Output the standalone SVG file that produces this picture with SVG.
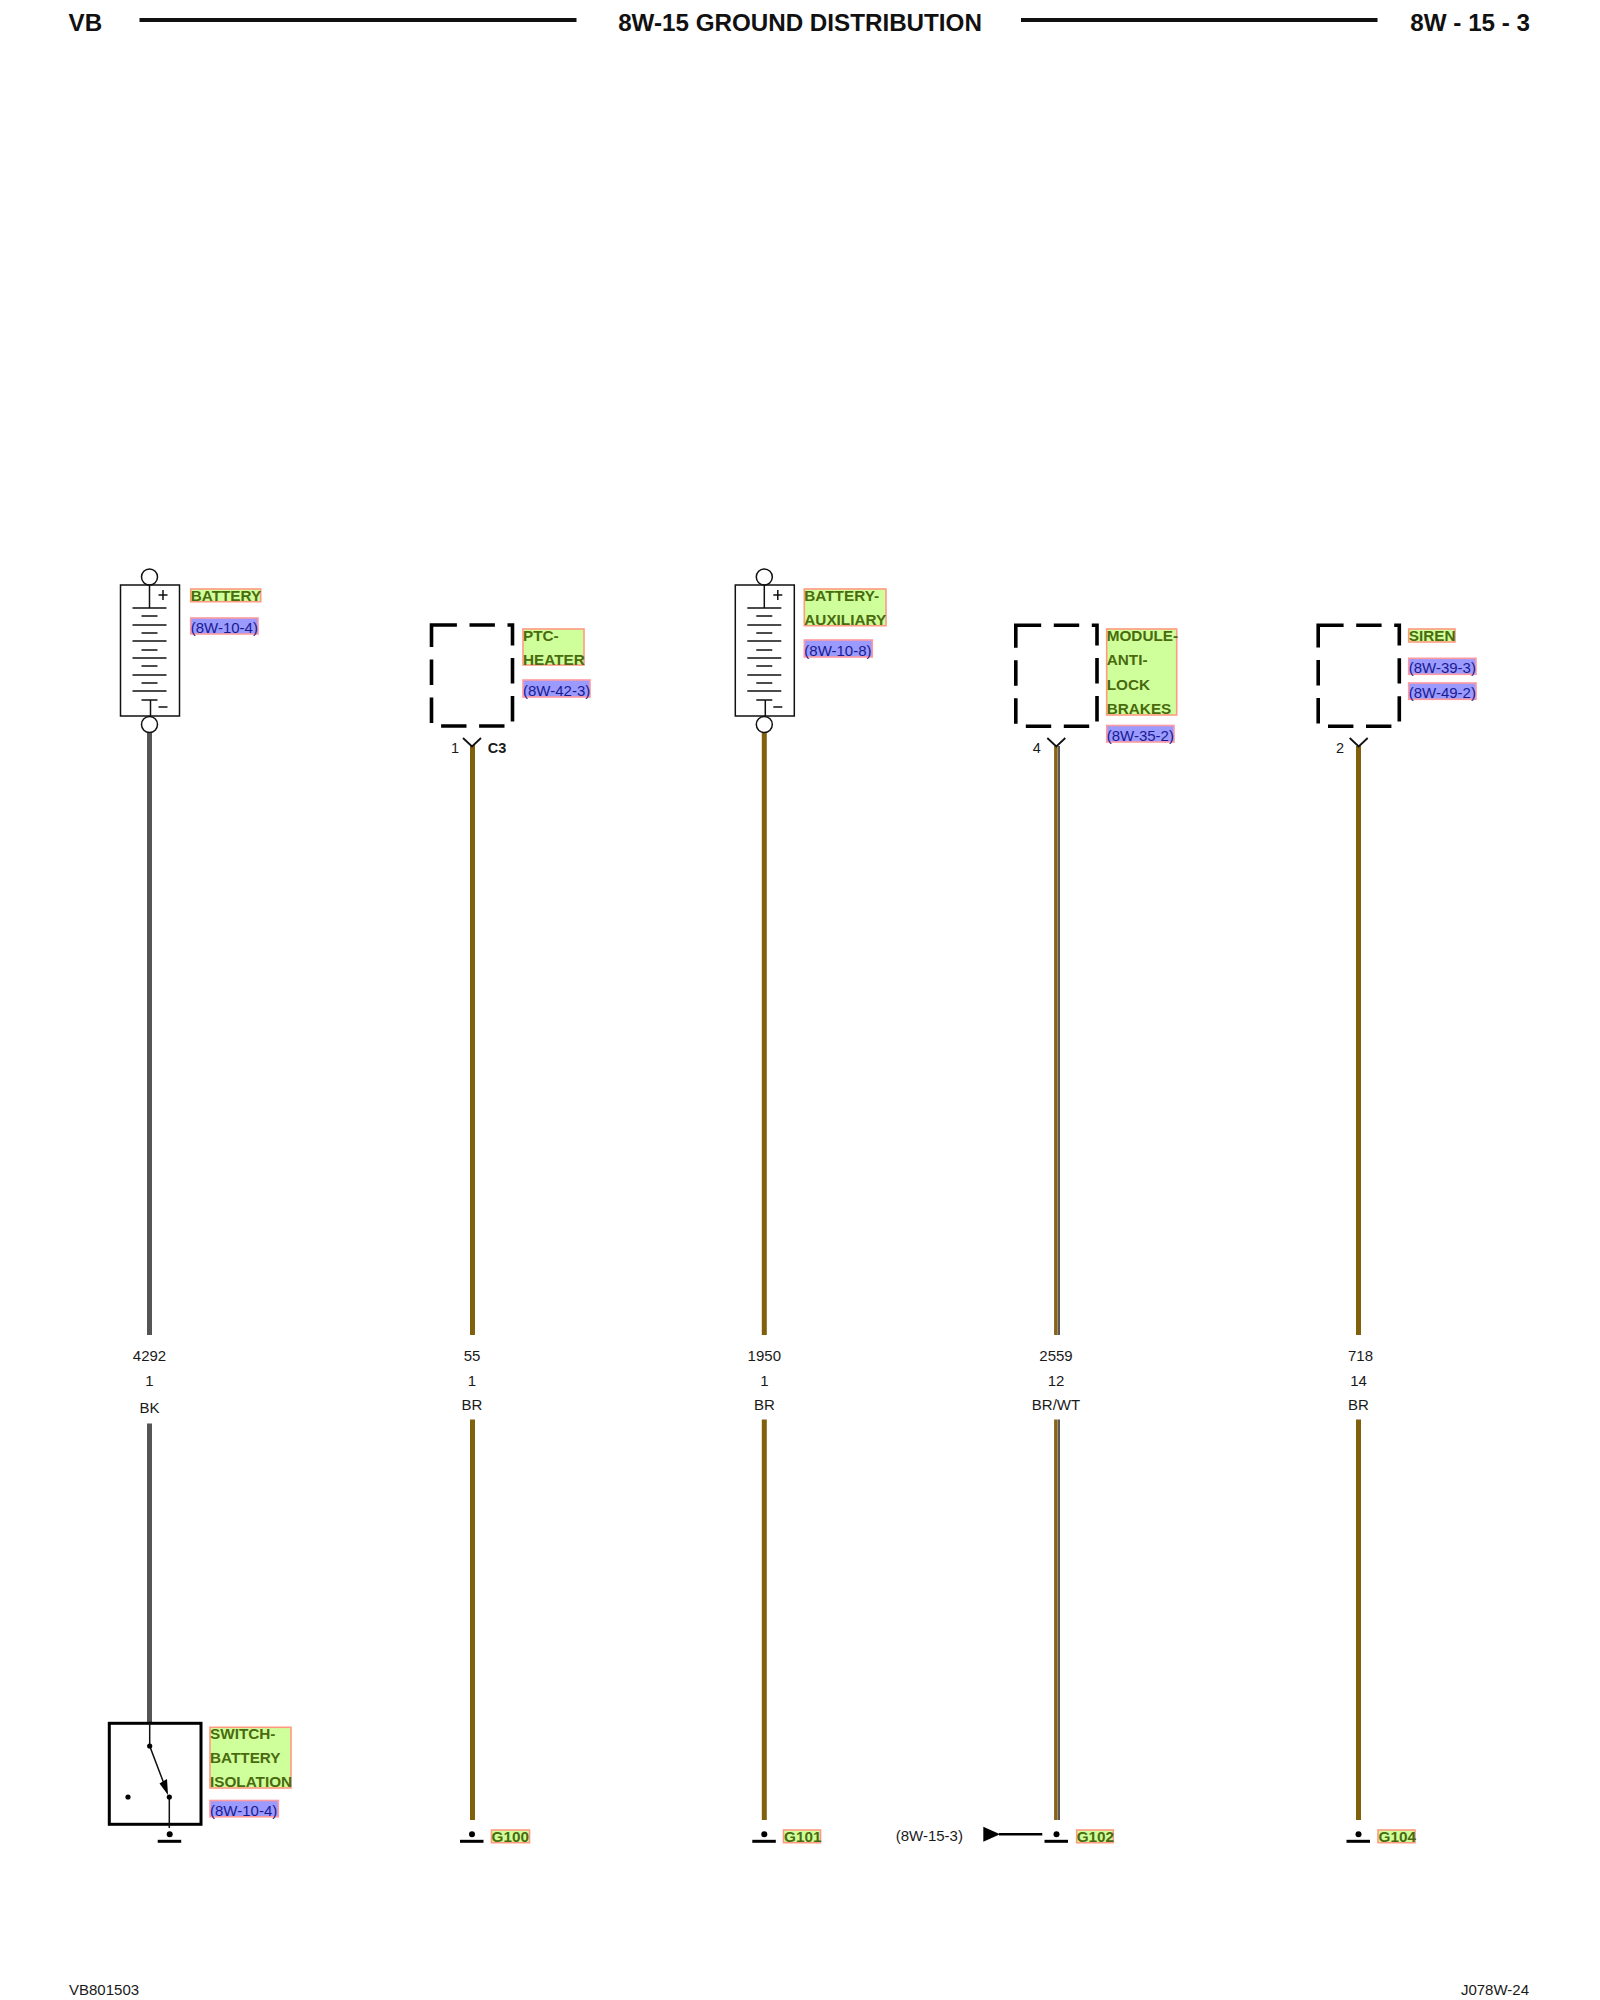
<svg xmlns="http://www.w3.org/2000/svg" xmlns:xlink="http://www.w3.org/1999/xlink" width="1600" height="2000" viewBox="0 0 1600 2000">
<style>
text{font-family:"Liberation Sans",Arial,sans-serif;font-size:15px;fill:#1a1a1a}
.hd{font-size:24.2px;font-weight:bold;fill:#111}
.hl{stroke:#111;stroke-width:4.2;fill:none}
.n{text-anchor:middle}
.pin{font-size:14.5px}
.b{font-weight:bold}
.gl{fill:#cfff9a;stroke:#ff9a80;stroke-width:1.6}
.bl{fill:#9a9aff;stroke:#ff9aa0;stroke-width:1.6}
.gt{font-weight:bold;font-size:15.3px;fill:#4a6a10}
.bt{fill:#1a1a90}
.thin{stroke:#111;stroke-width:1.5;fill:none}
.dash{fill:none;stroke:#000;stroke-width:3.6;stroke-dasharray:25.4 12.6}
.y{stroke:#111;stroke-width:1.8;fill:none}
.gb{stroke:#000;stroke-width:3}
.bk{stroke:#555;stroke-width:5;fill:none}
.br{stroke:#80600c;stroke-width:5;fill:none}
.brs{stroke:#86621a;stroke-width:3.6;fill:none}
.blk{stroke:#222;stroke-width:1.5;fill:none}
</style>
<defs>
<g id="batt">
<circle cx="0" cy="-8" r="8" fill="#fff" class="thin"/>
<rect x="-29" y="0" width="59" height="131" fill="#fff" class="thin"/>
<circle cx="0" cy="139.500" r="8" fill="#fff" class="thin"/>
<path class="thin" d="M0 0V23M-17 23H17M-8 31H8M-17 40H17M-8 48H8M-17 56H17M-8 65H8M-17 73H17M-8 81H8M-17 90H17M-8 98H8M-17 106H17M-8 115H8M1 115V131M9 122H18M9 10H18M13.500 5V15"/>
</g>
<g id="gnd">
<circle cx="0" cy="-7" r="3" fill="#000"/>
<path class="gb" d="M-12 0H11.500"/>
</g>
<path id="yc" class="y" d="M-9 738L0 746.500L9 738"/>
</defs>

<g id="header">
<text class="hd" x="68.500" y="31">VB</text>
<path class="hl" d="M139.500 20H576.500M1021 20H1377.500"/>
<text class="hd n" x="800" y="31">8W-15 GROUND DISTRIBUTION</text>
<text class="hd" x="1530" y="31" text-anchor="end">8W - 15 - 3</text>
</g>

<g id="connectors">
<path class="bk" d="M149.500 732V1335M149.500 1423.500V1723"/>
<path class="br" d="M472.500 745V1335M472.500 1419.500V1820"/>
<path class="br" d="M764.300 732V1335M764.300 1419.500V1820"/>
<path class="brs" d="M1055.900 746V1335M1055.900 1419.500V1820"/>
<path class="blk" d="M1059 746V1335M1059 1419.500V1820"/>
<path class="br" d="M1358.500 746V1335M1358.500 1419.500V1820"/>
</g>

<g id="node-battery">
<use xlink:href="#batt" href="#batt" x="149.500" y="585"/>
<rect class="gl" x="190.700" y="589" width="70" height="12.700"/>
<text class="gt" x="190.700" y="600.700">BATTERY</text>
<rect class="bl" x="190.700" y="618" width="67.300" height="16"/>
<text class="bt" x="190.700" y="633">(8W-10-4)</text>
</g>

<g id="node-ptc-heater">
<rect class="dash" x="431.500" y="625" width="81" height="101"/>
<use xlink:href="#yc" href="#yc" x="472" y="0"/>
<text class="pin n" x="455" y="753">1</text>
<text class="pin b" x="487.700" y="753">C3</text>
<rect class="gl" x="523" y="629" width="61" height="36"/>
<text class="gt" x="523" y="640.700">PTC-</text>
<text class="gt" x="523" y="664.700">HEATER</text>
<rect class="bl" x="523" y="680" width="67" height="17"/>
<text class="bt" x="523" y="696">(8W-42-3)</text>
</g>

<g id="node-battery-auxiliary">
<use xlink:href="#batt" href="#batt" x="764.300" y="585"/>
<rect class="gl" x="804.300" y="589" width="81.700" height="36.700"/>
<text class="gt" x="804.300" y="600.700">BATTERY-</text>
<text class="gt" x="804.300" y="624.700">AUXILIARY</text>
<rect class="bl" x="804.300" y="640" width="68" height="17"/>
<text class="bt" x="804.300" y="656">(8W-10-8)</text>
</g>

<g id="node-module-abs">
<rect class="dash" x="1015.800" y="625.300" width="81.200" height="101"/>
<use xlink:href="#yc" href="#yc" x="1056.300" y="0"/>
<text class="pin n" x="1036.700" y="753">4</text>
<rect class="gl" x="1106.700" y="629" width="70" height="86"/>
<text class="gt" x="1106.700" y="641">MODULE-</text>
<text class="gt" x="1106.700" y="665">ANTI-</text>
<text class="gt" x="1106.700" y="690">LOCK</text>
<text class="gt" x="1106.700" y="714">BRAKES</text>
<rect class="bl" x="1106.700" y="725.500" width="67.300" height="16.500"/>
<text class="bt" x="1106.700" y="741">(8W-35-2)</text>
</g>

<g id="node-siren">
<rect class="dash" x="1318.200" y="625.300" width="81.100" height="101"/>
<use xlink:href="#yc" href="#yc" x="1358.700" y="0"/>
<text class="pin n" x="1340" y="753">2</text>
<rect class="gl" x="1408.700" y="629" width="46.300" height="13"/>
<text class="gt" x="1408.700" y="640.700">SIREN</text>
<rect class="bl" x="1408.700" y="658.300" width="67.300" height="16"/>
<text class="bt" x="1408.700" y="673.300">(8W-39-3)</text>
<rect class="bl" x="1408.700" y="683" width="67.300" height="16.300"/>
<text class="bt" x="1408.700" y="698">(8W-49-2)</text>
</g>

<g id="wire-labels">
<text class="n" x="149.500" y="1360.700">4292</text>
<text class="n" x="149.500" y="1385.700">1</text>
<text class="n" x="149.500" y="1413">BK</text>
<text class="n" x="472" y="1360.700">55</text>
<text class="n" x="472" y="1385.700">1</text>
<text class="n" x="472" y="1410">BR</text>
<text class="n" x="764.300" y="1360.700">1950</text>
<text class="n" x="764.300" y="1385.700">1</text>
<text class="n" x="764.300" y="1410">BR</text>
<text class="n" x="1056" y="1360.700">2559</text>
<text class="n" x="1056" y="1385.700">12</text>
<text class="n" x="1056" y="1410">BR/WT</text>
<text class="n" x="1360.500" y="1360.700">718</text>
<text class="n" x="1358.500" y="1385.700">14</text>
<text class="n" x="1358.500" y="1410">BR</text>
</g>

<g id="node-switch">
<rect x="109.300" y="1723.300" width="91.700" height="101" fill="none" stroke="#000" stroke-width="3"/>
<path class="thin" d="M149.700 1723V1746L166 1789M169.300 1797V1828"/>
<polygon points="168,1795 159.500,1783.500 167,1779" fill="#000"/>
<circle cx="149.700" cy="1746" r="2.600" fill="#000"/>
<circle cx="169.300" cy="1797" r="2.600" fill="#000"/>
<circle cx="128" cy="1797" r="2.600" fill="#000"/>
<use xlink:href="#gnd" href="#gnd" x="169.700" y="1841.300"/>
<rect class="gl" x="210" y="1727.300" width="81" height="60.700"/>
<text class="gt" x="210" y="1739.300">SWITCH-</text>
<text class="gt" x="210" y="1763.300">BATTERY</text>
<text class="gt" x="210" y="1787.300">ISOLATION</text>
<rect class="bl" x="210" y="1800.500" width="68.300" height="16.300"/>
<text class="bt" x="210" y="1816">(8W-10-4)</text>
</g>

<g id="node-g100">
<use xlink:href="#gnd" href="#gnd" x="472" y="1841.300"/>
<rect class="gl" x="491.500" y="1830" width="38" height="12.700"/>
<text class="gt" x="491.500" y="1841.700">G100</text>
</g>
<g id="node-g101">
<use xlink:href="#gnd" href="#gnd" x="764.300" y="1841.300"/>
<rect class="gl" x="783.500" y="1830" width="37" height="12.700"/>
<text class="gt" x="784" y="1841.700">G101</text>
</g>
<g id="node-g102">
<use xlink:href="#gnd" href="#gnd" x="1056.500" y="1841.300"/>
<rect class="gl" x="1076.700" y="1830" width="36.600" height="12.700"/>
<text class="gt" x="1076.700" y="1841.700">G102</text>
<text x="895.700" y="1840.700">(8W-15-3)</text>
<polygon points="983.300,1826.700 983.300,1841.700 1000,1834.200" fill="#000"/>
<path d="M999 1834.200H1042.300" stroke="#000" stroke-width="2.500"/>
</g>
<g id="node-g104">
<use xlink:href="#gnd" href="#gnd" x="1358.500" y="1841.300"/>
<rect class="gl" x="1378" y="1830" width="37" height="12.700"/>
<text class="gt" x="1378.500" y="1841.700">G104</text>
</g>

<g id="footer">
<text x="69" y="1995">VB801503</text>
<text x="1529" y="1995" text-anchor="end">J078W-24</text>
</g>
</svg>
